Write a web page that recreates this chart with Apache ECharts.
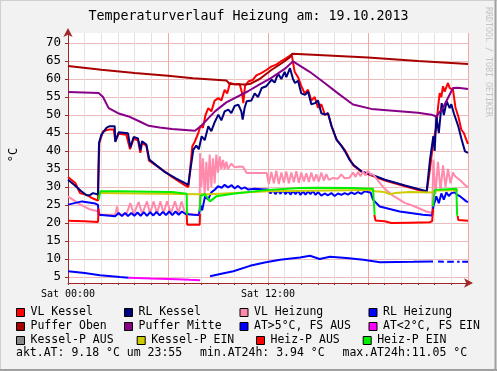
<!DOCTYPE html>
<html><head><meta charset="utf-8">
<script src="https://cdn.jsdelivr.net/npm/echarts@6/dist/echarts.min.js"></script>
<style>html,body{margin:0;padding:0;background:#f2f2f2}#c{width:497px;height:371px}</style>
</head><body><div id="c"></div>
<script>
// ---- data (x = hours since Sat 00:00, y = °C) ----
const titleText = 'Temperaturverlauf Heizung am: 19.10.2013';
const yTickValues = [5,10,15,20,25,30,35,40,45,50,55,60,65,70];
const xTickLabels = {0:'Sat 00:00', 12:'Sat 12:00'};
const seriesNames = ['VL Kessel','RL Kessel','VL Heizung','RL Heizung','Puffer Oben','Puffer Mitte','AT>5°C, FS AUS','AT<2°C, FS EIN','Kessel-P AUS','Kessel-P EIN','Heiz-P AUS','Heiz-P EIN'];
const seriesColors = ['#ff0000','#000080','#ff8aac','#0000ff','#a80000','#880088','#0000ff','#ff00ff','#888888','#cccc00','#ff0000','#00ee00'];

const vlKessel = [[0,32.8],[0.44,31.1],[0.72,28.3],[1.04,27.9],[1.2,27.6],[1.5,26.8],[1.8,26.2],[1.84,35],[1.88,42.2],[2.1,45.5],[2.5,46],[2.74,46],[2.84,42.8],[3.04,44.8],[3.5,44.5],[3.72,40.5],[3.94,43.4],[4.2,43],[4.34,39.5],[4.44,42.2],[4.7,41.5],[4.86,37.3],[5.5,35.3],[6.24,32.8],[7.0,30.5],[7.22,30.0],[7.35,36],[7.46,41.3],[7.6,42.5],[7.82,45.0],[7.95,47],[8.1,46.5],[8.25,50],[8.42,51.9],[8.6,51],[8.8,54],[9.02,54.7],[9.2,54],[9.4,57],[9.55,56],[9.72,58.9],[10.0,58.5],[10.3,58.6],[10.45,56],[10.52,53.3],[10.62,58],[10.82,59.3],[11.1,59.8],[11.3,61],[11.62,61.7],[11.9,62.5],[12.22,63.5],[12.5,64],[12.8,65],[13.1,65.8],[13.42,66.8],[13.6,62],[13.8,60.5],[14.0,58],[14.2,56],[14.4,57],[14.6,54],[14.8,55],[15.0,52],[15.2,53],[15.42,50],[15.6,50.5],[15.82,46.8],[16.12,43.1],[16.4,41.5],[16.62,40.2],[16.9,37.8],[17.12,36],[17.62,34.2],[18.22,33.2],[19.02,31.8],[20.22,30.2],[21.52,28.5],[21.72,35],[21.9,42],[22.1,46.8],[22.2,52],[22.3,56.1],[22.4,55],[22.5,58.0],[22.6,56.5],[22.8,58.9],[22.9,57.5],[23.1,57.0],[23.25,52],[23.42,49.6],[23.6,45.9],[23.75,45],[23.9,43.1],[24,42]];
const rlKessel = [[0,32.0],[0.4,30.5],[0.8,28.8],[1.12,27.7],[1.3,27.7],[1.5,28.3],[1.8,27.9],[1.82,33],[1.86,42.2],[2.0,44.5],[2.32,46.5],[2.5,46.9],[2.8,46.9],[2.84,42.5],[3.04,45.2],[3.6,44.9],[3.74,41.0],[3.94,43.9],[4.2,43.5],[4.34,40.2],[4.44,42.7],[4.7,41.8],[4.88,37.6],[5.82,34.1],[6.5,32.3],[7.22,30.6],[7.35,35],[7.52,40.4],[7.7,41.5],[7.85,40.5],[8.02,44.1],[8.2,43],[8.42,46.9],[8.6,45.5],[8.8,48],[9.02,50.1],[9.2,48.5],[9.4,51],[9.62,51.5],[9.8,50.5],[10.0,52.5],[10.22,52.9],[10.4,51],[10.48,48.7],[10.6,52],[10.72,53.8],[11.0,54],[11.2,56],[11.4,55],[11.62,57.5],[11.9,58],[12.22,59.8],[12.4,59],[12.6,61.5],[12.8,60],[13.0,62],[13.1,60.5],[13.32,63.0],[13.5,60],[13.62,58.9],[13.8,59.5],[14.0,56],[14.22,55.6],[14.4,56.5],[14.6,53],[14.82,53.3],[15.0,54],[15.2,50.5],[15.42,50.1],[15.6,50.5],[15.82,46.8],[16.12,43.1],[16.4,41.5],[16.62,39.9],[16.9,37.5],[17.12,36.2],[17.62,34.3],[18.22,33.4],[19.02,32.0],[20.22,30.4],[21.52,28.8],[21.72,37.6],[21.92,44.1],[22.0,40],[22.1,49.6],[22.25,45],[22.42,53.3],[22.55,50],[22.72,53.8],[22.9,51.9],[23.0,53],[23.15,50.5],[23.42,46.8],[23.6,43.5],[23.82,39.9],[24,39.5]];
const vlHeizung = [[0,27.4],[0.64,25.4],[1.24,23.9],[1.84,23.2],[1.94,22.3],[2.84,22.3],[2.94,24.6],[3.04,22.3],[3.5,22.4],[3.74,25.5],[3.95,22.5],[4.24,25.8],[4.45,22.5],[4.74,26],[4.92,22.6],[5.14,26],[5.34,22.6],[5.54,26],[5.74,22.7],[5.94,26],[6.18,22.7],[6.42,26],[6.62,22.8],[6.82,26],[7.0,23],[7.25,22.5],[7.9,22.3],[7.92,39.4],[8.0,30],[8.1,38],[8.2,28],[8.3,37],[8.4,29],[8.5,39],[8.6,30],[8.7,38],[8.8,31],[8.9,39],[9.0,34],[9.1,38.5],[9.2,35],[9.3,37.5],[9.4,35],[9.5,37],[9.6,35],[9.8,36.5],[10.0,35.5],[10.3,35.7],[10.5,35.6],[10.72,33.9],[11.92,33.9],[12.05,30.8],[12.2,34.2],[12.35,31],[12.5,34.5],[12.65,30.8],[12.8,34],[12.95,31.2],[13.1,34.3],[13.25,31],[13.4,34],[13.55,31.3],[13.7,34.4],[13.85,31.2],[14.0,34],[14.15,31.5],[14.3,33.8],[14.45,31.4],[14.6,34],[14.75,31.6],[14.9,33.5],[15.05,31.5],[15.2,34],[15.35,31.8],[15.5,33.6],[15.65,32],[15.9,32.5],[16.2,32.3],[16.4,33.5],[16.6,32.4],[16.9,32.6],[17.1,34],[17.25,32.8],[17.4,34.2],[17.55,33],[17.7,34.3],[17.85,33.2],[18.0,34.5],[18.15,33.5],[18.3,33.5],[19.0,29.5],[19.5,27.6],[20.2,25.6],[20.7,24.8],[21.5,23.2],[21.85,22.8],[21.92,37.6],[22.05,28],[22.2,37],[22.35,29],[22.5,36],[22.65,30],[22.8,35],[22.95,31],[23.1,34],[23.22,33.0],[23.5,32],[23.9,30.2],[24,30]];
const rlHeizung = [[0,25.1],[0.84,26.0],[1.64,25.4],[1.8,25],[1.84,22.3],[2.84,21.9],[3.04,22.8],[3.24,21.9],[3.42,22.8],[3.6,21.9],[3.8,22.8],[3.98,22],[4.17,22.9],[4.36,22],[4.55,23],[4.74,22],[4.93,23],[5.12,22.1],[5.31,23.1],[5.5,22.1],[5.69,23.1],[5.88,22.2],[6.07,23.2],[6.26,22.2],[6.45,23.2],[6.64,22.3],[6.83,23.2],[7.05,22.5],[7.5,22.3],[7.85,22.2],[7.95,25],[8.05,23.5],[8.22,27.4],[8.4,26.5],[8.6,28.5],[8.82,29.3],[9.0,30.2],[9.22,29.8],[9.4,30.6],[9.6,29.9],[9.82,30.5],[10.0,29.6],[10.2,30.3],[10.4,29.5],[10.6,29.9],[10.82,29.3],[11.2,29.5],[11.6,29.4],[12.0,29.3],[12.15,28.2],[12.3,29.2],[12.45,28],[12.6,29.1],[12.75,28.1],[12.9,29.2],[13.05,28],[13.2,29],[13.35,27.9],[13.5,28.9],[13.65,28],[13.8,29],[13.95,27.8],[14.1,28.8],[14.25,27.9],[14.4,28.8],[14.55,28],[14.7,28.9],[14.85,27.8],[15.0,28.6],[15.2,27.6],[15.4,28.2],[15.6,27.7],[15.8,28.3],[16.0,27.5],[16.2,28.2],[16.4,27.8],[16.6,28.3],[16.8,27.9],[17.0,28.5],[17.2,28.0],[17.4,28.6],[17.6,28.1],[17.8,28.8],[18.0,28.6],[18.15,28.5],[18.3,26.5],[18.7,24.6],[19.9,23.2],[21.3,22.3],[21.85,22.1],[21.92,24.6],[22.1,27.4],[22.25,25.5],[22.4,28.2],[22.55,26.5],[22.7,28.5],[22.85,27.5],[23.0,28.3],[23.2,28.5],[23.35,27.8],[23.5,27.5],[23.9,26.0],[24,25.8]];
const pufferOben = [[0,63.6],[2,62.6],[4,61.7],[6,60.9],[7.5,60.2],[9.5,59.6],[9.7,58.6],[10.6,58.5],[10.9,58.6],[11.5,60],[12.2,62.5],[12.8,64.3],[13.3,66],[13.45,67],[15,66.7],[18,66],[21,65],[24,64.2]];
const pufferMitte = [[0,56.4],[1.84,56.1],[2.1,55],[2.44,51.9],[3.0,50.5],[3.64,49.6],[4.3,48.2],[4.84,47.0],[5.5,46.5],[6.24,46.1],[7.62,45.6],[8.0,47],[8.4,49],[8.82,51.0],[9.5,53.5],[10.8,56.6],[11.5,58.5],[12.2,60.3],[13.0,62.8],[13.5,64.9],[14.5,62],[15.4,58.9],[16.2,56],[17.1,52.9],[18.2,51.7],[19.5,51.2],[21.0,50.6],[21.8,50.1],[22.1,49.6],[22.5,52],[23.1,57.5],[23.4,57.6],[24,57.2]];
const atWarm = [[0,6.6],[1,6.1],[1.92,5.5],[3.12,5.0],[3.64,4.8],[3.7,null],[8.52,5.2],[9.2,5.9],[9.92,6.6],[10.92,8.1],[11.8,9.0],[12.72,9.8],[13.92,10.4],[14.52,10.9],[15.1,10.0],[15.72,10.6],[16.7,10.3],[17.72,9.8],[18.72,9.1],[20.72,9.2],[21.9,9.3],[22.05,null],[22.2,9.3],[22.55,9.25],[22.65,null],[22.75,9.25],[23.15,9.2],[23.25,null],[23.35,9.2],[23.5,9.2],[23.58,null],[23.65,9.2],[24,9.2]];
const atCold = [[3.64,4.8],[5,4.6],[6.5,4.4],[7.3,4.2],[7.92,4.1]];
const kesselPAus = [];
const kesselPEin = [[1.9,28.3],[7.9,28.0],[8.5,28.0],[10,28.3],[12,28.8],[18,29.2],[18.42,28.8],[19.0,28.6],[19.3,28.0],[19.6,28.3],[20.5,28.6],[21.8,28.5],[22.1,29.0],[23.4,29.1]];
const heizPAus = [[0,20.6],[1.0,20.5],[1.8,20.3],[1.84,24],[1.9,null],[7.12,22.3],[7.15,19.5],[7.9,19.5],[7.92,22.5],[8.0,null],[18.38,22.3],[18.45,20.7],[19.0,20.5],[19.4,20.0],[20.5,20.1],[21.7,20.2],[21.85,20.5],[21.9,24],[22.0,null],[23.38,22],[23.42,20.8],[24,20.6]];
const heizPEin = [[1.84,26.5],[1.94,28.8],[3,28.8],[5,28.7],[6.24,28.6],[7.12,28.1],[7.14,22.3],[7.5,null],[7.9,23.2],[7.95,27.5],[8.2,28.0],[8.52,26.0],[8.9,27.4],[9.9,28.1],[12,29.2],[13.92,29.7],[15,29.8],[17,29.7],[18.3,29.5],[18.4,22.3],[19,null],[21.9,24.6],[22.0,29.2],[23.3,29.5],[23.35,22.0]];

const seriesData = [vlKessel, rlKessel, vlHeizung, rlHeizung, pufferOben, pufferMitte, atWarm, atCold, kesselPAus, kesselPEin, heizPAus, heizPEin];

// ---- chart ----
const chart = echarts.init(document.getElementById('c'), null, {renderer:'canvas'});
const axisColor = '#a02828';
const mono = '"DejaVu Sans Mono", monospace';
const legendFont = '11.5px ' + mono;

const legendRows = [
  {y:312, items:[[16,0],[124,1],[239.5,2],[368.5,3]]},
  {y:326, items:[[16,4],[124,5],[239.5,6],[368.5,7]]},
  {y:340, items:[[16,8],[136.7,9],[256,10],[362.7,11]]}
];
const graphics = [];
legendRows.forEach(r => r.items.forEach(([x, i]) => {
  graphics.push({type:'rect', shape:{x:x+0.5, y:r.y-3.5, width:8, height:8}, style:{fill:seriesColors[i], stroke:'#000', lineWidth:1}, silent:true});
  graphics.push({type:'text', x:x+14.5, y:r.y+0.5, style:{text:seriesNames[i], font:legendFont, fill:'#000', verticalAlign:'middle'}, silent:true});
}));
graphics.push({type:'text', x:16, y:353.5, style:{text:'akt.AT: 9.18 °C um 23:55', font:legendFont, fill:'#000', verticalAlign:'middle'}});
graphics.push({type:'text', x:200, y:353.5, style:{text:'min.AT24h: 3.94 °C', font:legendFont, fill:'#000', verticalAlign:'middle'}});
graphics.push({type:'text', x:342.5, y:353.5, style:{text:'max.AT24h:11.05 °C', font:legendFont, fill:'#000', verticalAlign:'middle'}});
graphics.push({type:'text', x:248.5, y:17, style:{text:titleText, font:'13.3px '+mono, fill:'#000', align:'center', verticalAlign:'middle'}});
graphics.push({type:'text', x:14, y:155, rotation:Math.PI/2, style:{text:'°C', font:'12px '+mono, fill:'#000', align:'center', verticalAlign:'middle'}});
graphics.push({type:'text', x:488, y:62, rotation:-Math.PI/2, style:{text:'RRDTOOL / TOBI OETIKER', font:'8.3px '+mono, fill:'#c4c4c4', align:'center', verticalAlign:'middle'}});
// frame shading
graphics.push({type:'line', shape:{x1:0.5,y1:0,x2:0.5,y2:371}, style:{stroke:'#d0d0d0', lineWidth:1}});
graphics.push({type:'line', shape:{x1:0,y1:0.5,x2:497,y2:0.5}, style:{stroke:'#d0d0d0', lineWidth:1}});
graphics.push({type:'line', shape:{x1:495.5,y1:0,x2:495.5,y2:371}, style:{stroke:'#a0a0a0', lineWidth:2}});
graphics.push({type:'line', shape:{x1:0,y1:370,x2:497,y2:370}, style:{stroke:'#a0a0a0', lineWidth:2}});

const option = {
  animation:false,
  backgroundColor:'#f2f2f2',
  grid:{left:68, top:33, width:400, height:250, show:true, backgroundColor:'#ffffff', borderWidth:0},
  xAxis:{type:'value', min:0, max:24, interval:1,
    axisLine:{show:true, lineStyle:{color:axisColor, width:1}, symbol:['none','arrow'], symbolSize:[7,9], symbolOffset:[0,5]},
    axisTick:{show:true, length:2, lineStyle:{color:axisColor}},
    axisLabel:{show:true, margin:6, fontFamily:mono, fontSize:10, color:'#000', formatter:v => xTickLabels[v] || ''},
    splitLine:{show:true, lineStyle:{color:['#f0a8a8','#e2e2e2','#e2e2e2','#e2e2e2','#e2e2e2','#e2e2e2'], width:1}}
  },
  yAxis:{type:'value', min:3.33, max:72.78,
    axisLine:{show:true, onZero:false, lineStyle:{color:axisColor, width:1}, symbol:['none','arrow'], symbolSize:[7,9], symbolOffset:[0,5]},
    axisTick:{show:true, length:3, inside:false, lineStyle:{color:axisColor}, customValues:yTickValues},
    axisLabel:{show:true, margin:7, fontFamily:mono, fontSize:12.5, color:'#000', customValues:yTickValues},
    splitLine:{show:true, lineStyle:{color:'#ecbcbc', width:1}}
  },
  graphic:graphics,
  series: seriesData.map((d, i) => ({
    name:seriesNames[i], type:'line', data:d, showSymbol:false, symbol:'none',
    connectNulls:false, clip:true,
    lineStyle:{color:seriesColors[i], width:2}, itemStyle:{color:seriesColors[i]},
    emphasis:{disabled:true}
  }))
};
chart.setOption(option);
</script></body></html>
